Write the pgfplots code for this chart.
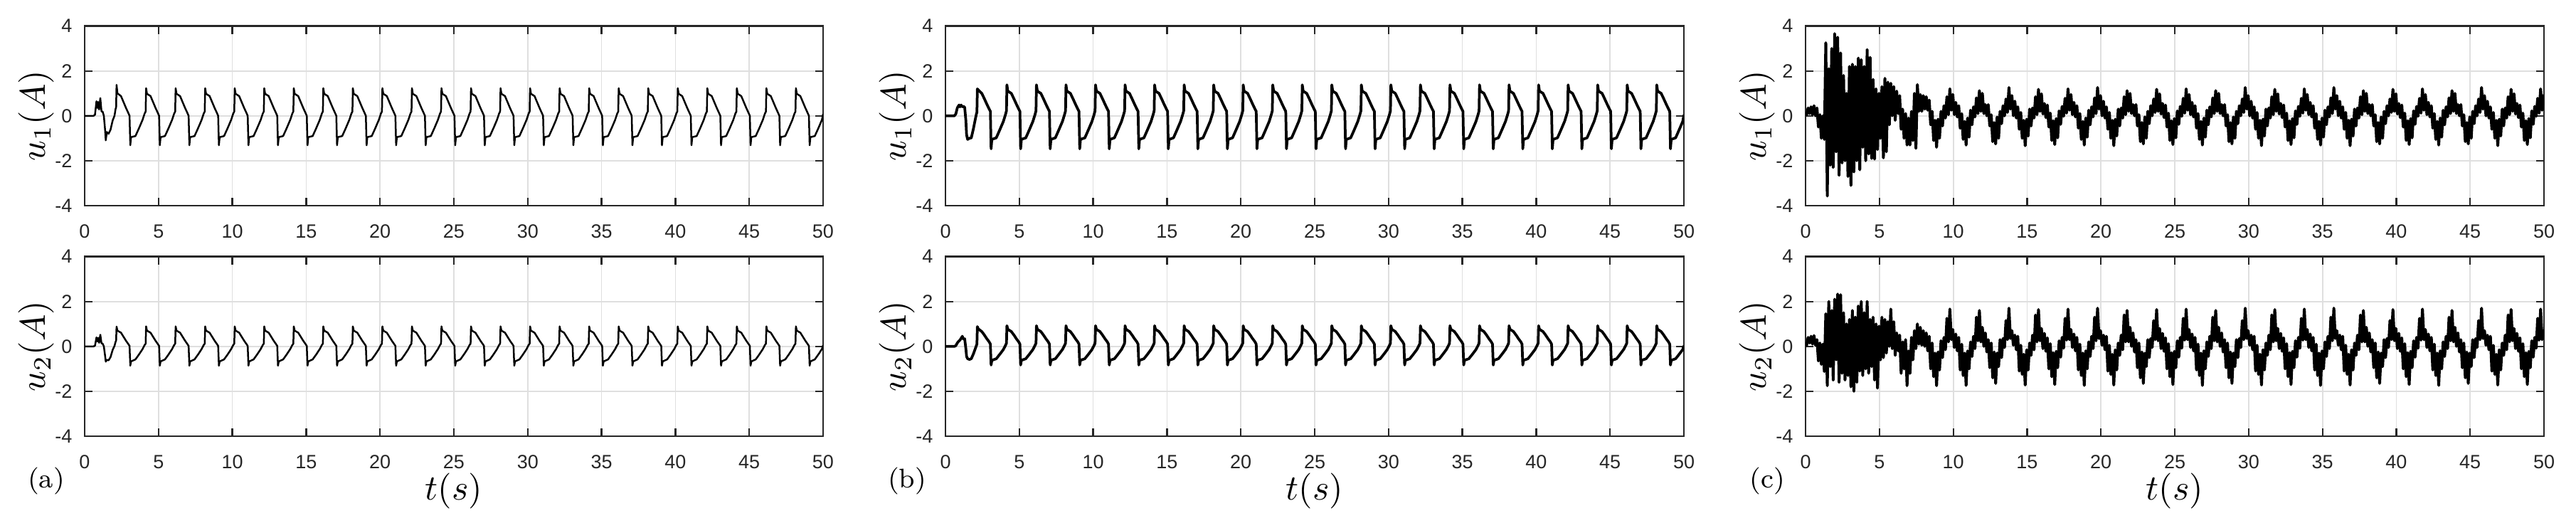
\documentclass[border=0pt]{standalone}
\usepackage{fontspec}
\usepackage{pgfplots}
\usepackage{pgfplotstable}
\pgfplotsset{compat=1.18}
\newfontfamily\ticksf{Liberation Sans}
\definecolor{axgray}{RGB}{38,38,38}
\definecolor{gridgray}{RGB}{223,223,223}

% t, u1 and u2 of panels (a) and (b)
\pgfplotstableread{
t a1 a2 b1 b2
0.00 0 0 0 0
0.60 0 0 0 0
0.70 0.05 0.03 0.08 0.03
0.80 0.65 0.40 0.35 0.15
0.86 0.35 0.22 0.42 0.20
0.92 0.62 0.38 0.48 0.24
0.98 0.28 0.16 0.40 0.28
1.06 0.79 0.52 0.48 0.36
1.14 0.20 0.14 0.40 0.45
1.22 0.18 0.12 0.42 0.32
1.30 0.00 0.00 0.38 0.34
1.38 -0.60 -0.40 -0.20 -0.10
1.43 -1.09 -0.68 -0.85 -0.45
1.50 -0.72 -0.60 -1.05 -0.55
1.62 -0.80 -0.62 -1.00 -0.58
1.75 -0.62 -0.48 -0.98 -0.55
1.90 -0.20 -0.15 -0.55 -0.32
2.02 0.00 0.02 -0.15 -0.10
2.10 0.33 0.22 0.10 0.05
2.13 0.35 0.24 0.15 0.10
2.16 1.38 0.88 1.20 0.88
2.22 1.00 0.70 1.15 0.78
2.46 0.88 0.61 1.00 0.66
2.64 0.60 0.42 0.75 0.50
2.80 0.35 0.25 0.52 0.34
2.96 0.12 0.10 0.30 0.20
3.04 0.00 0.02 0.20 0.10
3.09 -1.31 -0.86 -1.47 -0.83
3.14 -0.95 -0.67 -1.05 -0.62
3.44 -0.90 -0.58 -0.98 -0.55
3.68 -0.55 -0.36 -0.62 -0.35
3.92 -0.18 -0.12 -0.25 -0.14
4.06 0.10 0.06 0.05 0.04
4.13 0.19 0.12 0.22 0.14
4.16 1.23 0.89 1.38 0.92
4.22 0.98 0.70 1.10 0.76
4.46 0.88 0.61 1.00 0.66
4.64 0.60 0.42 0.75 0.50
4.80 0.35 0.25 0.52 0.34
4.96 0.12 0.10 0.30 0.20
5.04 0.00 0.02 0.20 0.10
5.09 -1.31 -0.86 -1.47 -0.83
5.14 -0.95 -0.67 -1.05 -0.62
5.44 -0.90 -0.58 -0.98 -0.55
5.68 -0.55 -0.36 -0.62 -0.35
5.92 -0.18 -0.12 -0.25 -0.14
6.06 0.10 0.06 0.05 0.04
6.13 0.19 0.12 0.22 0.14
6.16 1.23 0.89 1.38 0.92
6.22 0.98 0.70 1.10 0.76
6.46 0.88 0.61 1.00 0.66
6.64 0.60 0.42 0.75 0.50
6.80 0.35 0.25 0.52 0.34
6.96 0.12 0.10 0.30 0.20
7.04 0.00 0.02 0.20 0.10
7.09 -1.31 -0.86 -1.47 -0.83
7.14 -0.95 -0.67 -1.05 -0.62
7.44 -0.90 -0.58 -0.98 -0.55
7.68 -0.55 -0.36 -0.62 -0.35
7.92 -0.18 -0.12 -0.25 -0.14
8.06 0.10 0.06 0.05 0.04
8.13 0.19 0.12 0.22 0.14
8.16 1.23 0.89 1.38 0.92
8.22 0.98 0.70 1.10 0.76
8.46 0.88 0.61 1.00 0.66
8.64 0.60 0.42 0.75 0.50
8.80 0.35 0.25 0.52 0.34
8.96 0.12 0.10 0.30 0.20
9.04 0.00 0.02 0.20 0.10
9.09 -1.31 -0.86 -1.47 -0.83
9.14 -0.95 -0.67 -1.05 -0.62
9.44 -0.90 -0.58 -0.98 -0.55
9.68 -0.55 -0.36 -0.62 -0.35
9.92 -0.18 -0.12 -0.25 -0.14
10.06 0.10 0.06 0.05 0.04
10.13 0.19 0.12 0.22 0.14
10.16 1.23 0.89 1.38 0.92
10.22 0.98 0.70 1.10 0.76
10.46 0.88 0.61 1.00 0.66
10.64 0.60 0.42 0.75 0.50
10.80 0.35 0.25 0.52 0.34
10.96 0.12 0.10 0.30 0.20
11.04 0.00 0.02 0.20 0.10
11.09 -1.31 -0.86 -1.47 -0.83
11.14 -0.95 -0.67 -1.05 -0.62
11.44 -0.90 -0.58 -0.98 -0.55
11.68 -0.55 -0.36 -0.62 -0.35
11.92 -0.18 -0.12 -0.25 -0.14
12.06 0.10 0.06 0.05 0.04
12.13 0.19 0.12 0.22 0.14
12.16 1.23 0.89 1.38 0.92
12.22 0.98 0.70 1.10 0.76
12.46 0.88 0.61 1.00 0.66
12.64 0.60 0.42 0.75 0.50
12.80 0.35 0.25 0.52 0.34
12.96 0.12 0.10 0.30 0.20
13.04 0.00 0.02 0.20 0.10
13.09 -1.31 -0.86 -1.47 -0.83
13.14 -0.95 -0.67 -1.05 -0.62
13.44 -0.90 -0.58 -0.98 -0.55
13.68 -0.55 -0.36 -0.62 -0.35
13.92 -0.18 -0.12 -0.25 -0.14
14.06 0.10 0.06 0.05 0.04
14.13 0.19 0.12 0.22 0.14
14.16 1.23 0.89 1.38 0.92
14.22 0.98 0.70 1.10 0.76
14.46 0.88 0.61 1.00 0.66
14.64 0.60 0.42 0.75 0.50
14.80 0.35 0.25 0.52 0.34
14.96 0.12 0.10 0.30 0.20
15.04 0.00 0.02 0.20 0.10
15.09 -1.31 -0.86 -1.47 -0.83
15.14 -0.95 -0.67 -1.05 -0.62
15.44 -0.90 -0.58 -0.98 -0.55
15.68 -0.55 -0.36 -0.62 -0.35
15.92 -0.18 -0.12 -0.25 -0.14
16.06 0.10 0.06 0.05 0.04
16.13 0.19 0.12 0.22 0.14
16.16 1.23 0.89 1.38 0.92
16.22 0.98 0.70 1.10 0.76
16.46 0.88 0.61 1.00 0.66
16.64 0.60 0.42 0.75 0.50
16.80 0.35 0.25 0.52 0.34
16.96 0.12 0.10 0.30 0.20
17.04 0.00 0.02 0.20 0.10
17.09 -1.31 -0.86 -1.47 -0.83
17.14 -0.95 -0.67 -1.05 -0.62
17.44 -0.90 -0.58 -0.98 -0.55
17.68 -0.55 -0.36 -0.62 -0.35
17.92 -0.18 -0.12 -0.25 -0.14
18.06 0.10 0.06 0.05 0.04
18.13 0.19 0.12 0.22 0.14
18.16 1.23 0.89 1.38 0.92
18.22 0.98 0.70 1.10 0.76
18.46 0.88 0.61 1.00 0.66
18.64 0.60 0.42 0.75 0.50
18.80 0.35 0.25 0.52 0.34
18.96 0.12 0.10 0.30 0.20
19.04 0.00 0.02 0.20 0.10
19.09 -1.31 -0.86 -1.47 -0.83
19.14 -0.95 -0.67 -1.05 -0.62
19.44 -0.90 -0.58 -0.98 -0.55
19.68 -0.55 -0.36 -0.62 -0.35
19.92 -0.18 -0.12 -0.25 -0.14
20.06 0.10 0.06 0.05 0.04
20.13 0.19 0.12 0.22 0.14
20.16 1.23 0.89 1.38 0.92
20.22 0.98 0.70 1.10 0.76
20.46 0.88 0.61 1.00 0.66
20.64 0.60 0.42 0.75 0.50
20.80 0.35 0.25 0.52 0.34
20.96 0.12 0.10 0.30 0.20
21.04 0.00 0.02 0.20 0.10
21.09 -1.31 -0.86 -1.47 -0.83
21.14 -0.95 -0.67 -1.05 -0.62
21.44 -0.90 -0.58 -0.98 -0.55
21.68 -0.55 -0.36 -0.62 -0.35
21.92 -0.18 -0.12 -0.25 -0.14
22.06 0.10 0.06 0.05 0.04
22.13 0.19 0.12 0.22 0.14
22.16 1.23 0.89 1.38 0.92
22.22 0.98 0.70 1.10 0.76
22.46 0.88 0.61 1.00 0.66
22.64 0.60 0.42 0.75 0.50
22.80 0.35 0.25 0.52 0.34
22.96 0.12 0.10 0.30 0.20
23.04 0.00 0.02 0.20 0.10
23.09 -1.31 -0.86 -1.47 -0.83
23.14 -0.95 -0.67 -1.05 -0.62
23.44 -0.90 -0.58 -0.98 -0.55
23.68 -0.55 -0.36 -0.62 -0.35
23.92 -0.18 -0.12 -0.25 -0.14
24.06 0.10 0.06 0.05 0.04
24.13 0.19 0.12 0.22 0.14
24.16 1.23 0.89 1.38 0.92
24.22 0.98 0.70 1.10 0.76
24.46 0.88 0.61 1.00 0.66
24.64 0.60 0.42 0.75 0.50
24.80 0.35 0.25 0.52 0.34
24.96 0.12 0.10 0.30 0.20
25.04 0.00 0.02 0.20 0.10
25.09 -1.31 -0.86 -1.47 -0.83
25.14 -0.95 -0.67 -1.05 -0.62
25.44 -0.90 -0.58 -0.98 -0.55
25.68 -0.55 -0.36 -0.62 -0.35
25.92 -0.18 -0.12 -0.25 -0.14
26.06 0.10 0.06 0.05 0.04
26.13 0.19 0.12 0.22 0.14
26.16 1.23 0.89 1.38 0.92
26.22 0.98 0.70 1.10 0.76
26.46 0.88 0.61 1.00 0.66
26.64 0.60 0.42 0.75 0.50
26.80 0.35 0.25 0.52 0.34
26.96 0.12 0.10 0.30 0.20
27.04 0.00 0.02 0.20 0.10
27.09 -1.31 -0.86 -1.47 -0.83
27.14 -0.95 -0.67 -1.05 -0.62
27.44 -0.90 -0.58 -0.98 -0.55
27.68 -0.55 -0.36 -0.62 -0.35
27.92 -0.18 -0.12 -0.25 -0.14
28.06 0.10 0.06 0.05 0.04
28.13 0.19 0.12 0.22 0.14
28.16 1.23 0.89 1.38 0.92
28.22 0.98 0.70 1.10 0.76
28.46 0.88 0.61 1.00 0.66
28.64 0.60 0.42 0.75 0.50
28.80 0.35 0.25 0.52 0.34
28.96 0.12 0.10 0.30 0.20
29.04 0.00 0.02 0.20 0.10
29.09 -1.31 -0.86 -1.47 -0.83
29.14 -0.95 -0.67 -1.05 -0.62
29.44 -0.90 -0.58 -0.98 -0.55
29.68 -0.55 -0.36 -0.62 -0.35
29.92 -0.18 -0.12 -0.25 -0.14
30.06 0.10 0.06 0.05 0.04
30.13 0.19 0.12 0.22 0.14
30.16 1.23 0.89 1.38 0.92
30.22 0.98 0.70 1.10 0.76
30.46 0.88 0.61 1.00 0.66
30.64 0.60 0.42 0.75 0.50
30.80 0.35 0.25 0.52 0.34
30.96 0.12 0.10 0.30 0.20
31.04 0.00 0.02 0.20 0.10
31.09 -1.31 -0.86 -1.47 -0.83
31.14 -0.95 -0.67 -1.05 -0.62
31.44 -0.90 -0.58 -0.98 -0.55
31.68 -0.55 -0.36 -0.62 -0.35
31.92 -0.18 -0.12 -0.25 -0.14
32.06 0.10 0.06 0.05 0.04
32.13 0.19 0.12 0.22 0.14
32.16 1.23 0.89 1.38 0.92
32.22 0.98 0.70 1.10 0.76
32.46 0.88 0.61 1.00 0.66
32.64 0.60 0.42 0.75 0.50
32.80 0.35 0.25 0.52 0.34
32.96 0.12 0.10 0.30 0.20
33.04 0.00 0.02 0.20 0.10
33.09 -1.31 -0.86 -1.47 -0.83
33.14 -0.95 -0.67 -1.05 -0.62
33.44 -0.90 -0.58 -0.98 -0.55
33.68 -0.55 -0.36 -0.62 -0.35
33.92 -0.18 -0.12 -0.25 -0.14
34.06 0.10 0.06 0.05 0.04
34.13 0.19 0.12 0.22 0.14
34.16 1.23 0.89 1.38 0.92
34.22 0.98 0.70 1.10 0.76
34.46 0.88 0.61 1.00 0.66
34.64 0.60 0.42 0.75 0.50
34.80 0.35 0.25 0.52 0.34
34.96 0.12 0.10 0.30 0.20
35.04 0.00 0.02 0.20 0.10
35.09 -1.31 -0.86 -1.47 -0.83
35.14 -0.95 -0.67 -1.05 -0.62
35.44 -0.90 -0.58 -0.98 -0.55
35.68 -0.55 -0.36 -0.62 -0.35
35.92 -0.18 -0.12 -0.25 -0.14
36.06 0.10 0.06 0.05 0.04
36.13 0.19 0.12 0.22 0.14
36.16 1.23 0.89 1.38 0.92
36.22 0.98 0.70 1.10 0.76
36.46 0.88 0.61 1.00 0.66
36.64 0.60 0.42 0.75 0.50
36.80 0.35 0.25 0.52 0.34
36.96 0.12 0.10 0.30 0.20
37.04 0.00 0.02 0.20 0.10
37.09 -1.31 -0.86 -1.47 -0.83
37.14 -0.95 -0.67 -1.05 -0.62
37.44 -0.90 -0.58 -0.98 -0.55
37.68 -0.55 -0.36 -0.62 -0.35
37.92 -0.18 -0.12 -0.25 -0.14
38.06 0.10 0.06 0.05 0.04
38.13 0.19 0.12 0.22 0.14
38.16 1.23 0.89 1.38 0.92
38.22 0.98 0.70 1.10 0.76
38.46 0.88 0.61 1.00 0.66
38.64 0.60 0.42 0.75 0.50
38.80 0.35 0.25 0.52 0.34
38.96 0.12 0.10 0.30 0.20
39.04 0.00 0.02 0.20 0.10
39.09 -1.31 -0.86 -1.47 -0.83
39.14 -0.95 -0.67 -1.05 -0.62
39.44 -0.90 -0.58 -0.98 -0.55
39.68 -0.55 -0.36 -0.62 -0.35
39.92 -0.18 -0.12 -0.25 -0.14
40.06 0.10 0.06 0.05 0.04
40.13 0.19 0.12 0.22 0.14
40.16 1.23 0.89 1.38 0.92
40.22 0.98 0.70 1.10 0.76
40.46 0.88 0.61 1.00 0.66
40.64 0.60 0.42 0.75 0.50
40.80 0.35 0.25 0.52 0.34
40.96 0.12 0.10 0.30 0.20
41.04 0.00 0.02 0.20 0.10
41.09 -1.31 -0.86 -1.47 -0.83
41.14 -0.95 -0.67 -1.05 -0.62
41.44 -0.90 -0.58 -0.98 -0.55
41.68 -0.55 -0.36 -0.62 -0.35
41.92 -0.18 -0.12 -0.25 -0.14
42.06 0.10 0.06 0.05 0.04
42.13 0.19 0.12 0.22 0.14
42.16 1.23 0.89 1.38 0.92
42.22 0.98 0.70 1.10 0.76
42.46 0.88 0.61 1.00 0.66
42.64 0.60 0.42 0.75 0.50
42.80 0.35 0.25 0.52 0.34
42.96 0.12 0.10 0.30 0.20
43.04 0.00 0.02 0.20 0.10
43.09 -1.31 -0.86 -1.47 -0.83
43.14 -0.95 -0.67 -1.05 -0.62
43.44 -0.90 -0.58 -0.98 -0.55
43.68 -0.55 -0.36 -0.62 -0.35
43.92 -0.18 -0.12 -0.25 -0.14
44.06 0.10 0.06 0.05 0.04
44.13 0.19 0.12 0.22 0.14
44.16 1.23 0.89 1.38 0.92
44.22 0.98 0.70 1.10 0.76
44.46 0.88 0.61 1.00 0.66
44.64 0.60 0.42 0.75 0.50
44.80 0.35 0.25 0.52 0.34
44.96 0.12 0.10 0.30 0.20
45.04 0.00 0.02 0.20 0.10
45.09 -1.31 -0.86 -1.47 -0.83
45.14 -0.95 -0.67 -1.05 -0.62
45.44 -0.90 -0.58 -0.98 -0.55
45.68 -0.55 -0.36 -0.62 -0.35
45.92 -0.18 -0.12 -0.25 -0.14
46.06 0.10 0.06 0.05 0.04
46.13 0.19 0.12 0.22 0.14
46.16 1.23 0.89 1.38 0.92
46.22 0.98 0.70 1.10 0.76
46.46 0.88 0.61 1.00 0.66
46.64 0.60 0.42 0.75 0.50
46.80 0.35 0.25 0.52 0.34
46.96 0.12 0.10 0.30 0.20
47.04 0.00 0.02 0.20 0.10
47.09 -1.31 -0.86 -1.47 -0.83
47.14 -0.95 -0.67 -1.05 -0.62
47.44 -0.90 -0.58 -0.98 -0.55
47.68 -0.55 -0.36 -0.62 -0.35
47.92 -0.18 -0.12 -0.25 -0.14
48.06 0.10 0.06 0.05 0.04
48.13 0.19 0.12 0.22 0.14
48.16 1.23 0.89 1.38 0.92
48.22 0.98 0.70 1.10 0.76
48.46 0.88 0.61 1.00 0.66
48.64 0.60 0.42 0.75 0.50
48.80 0.35 0.25 0.52 0.34
48.96 0.12 0.10 0.30 0.20
49.04 0.00 0.02 0.20 0.10
49.09 -1.31 -0.86 -1.47 -0.83
49.14 -0.95 -0.67 -1.05 -0.62
49.44 -0.90 -0.58 -0.98 -0.55
49.68 -0.55 -0.36 -0.62 -0.35
49.92 -0.18 -0.12 -0.25 -0.14
50.00 0.08 0.05 0.04 0.03
}\tabab

% t, u1 and u2 of panel (c), read as the upper and lower edges of the noisy band
\pgfplotstableread{
t c1 c2
0.00 0.00 0.00
0.07 0.05 0.05
0.17 0.35 0.40
0.27 0.10 0.15
0.37 0.40 0.45
0.47 0.05 0.10
0.57 0.45 0.48
0.67 0.00 0.05
0.77 0.35 0.30
0.87 -0.50 -0.65
0.97 0.05 0.15
1.07 -1.00 -0.80
1.17 0.00 0.10
1.27 -1.05 -1.12
1.37 3.25 1.45
1.47 -3.57 -1.75
1.57 2.10 2.00
1.67 -2.20 -0.90
1.77 3.00 1.60
1.87 -2.30 -1.50
1.97 3.66 2.10
2.07 -1.60 -0.60
2.17 3.50 2.33
2.27 -2.65 -1.60
2.37 2.80 2.30
2.47 -2.10 -1.20
2.57 1.80 1.50
2.67 -2.00 -1.50
2.77 1.00 1.00
2.87 -2.70 -1.30
2.97 2.20 1.20
3.07 -3.10 -1.80
3.17 2.30 1.60
3.27 -2.50 -2.00
3.37 2.20 1.30
3.47 -2.00 -1.60
3.57 2.57 1.80
3.67 -2.40 -1.10
3.77 2.50 2.00
3.87 -1.40 -1.30
3.97 2.20 1.50
4.07 -2.00 -1.00
4.17 2.95 2.00
4.27 -1.70 -1.20
4.37 2.60 1.20
4.47 -1.90 -0.90
4.57 1.62 1.30
4.67 -1.93 -1.50
4.77 1.20 1.00
4.87 -1.50 -1.86
4.97 1.00 0.90
5.07 -1.00 -0.60
5.17 1.30 1.30
5.27 -1.87 -0.50
5.37 1.67 1.20
5.47 -1.60 -0.30
5.57 1.50 1.10
5.67 -0.40 0.00
5.77 1.45 1.66
5.87 0.00 -0.10
5.97 1.30 1.10
6.07 -0.20 -0.40
6.17 1.10 0.60
6.27 0.10 -0.20
6.37 0.90 0.50
6.47 -0.60 -1.20
6.57 0.30 0.20
6.67 -1.00 -1.00
6.77 0.10 0.30
6.87 -1.30 -1.75
6.97 -0.10 -0.20
7.07 -1.30 -1.20
7.17 0.20 0.40
7.27 -1.10 -0.60
7.37 1.00 0.70
7.47 -1.45 -0.10
7.57 1.39 1.00
7.67 0.20 0.10
7.77 0.95 0.85
7.87 0.20 0.05
7.97 0.90 0.70
8.07 0.30 0.00
8.17 0.85 0.60
8.27 0.25 -0.20
8.37 0.70 0.45
8.47 -0.40 -1.00
8.57 0.20 0.15
8.67 -1.10 -1.35
8.77 -0.20 -0.30
8.87 -1.40 -1.75
8.97 -0.15 -0.25
9.07 -1.00 -1.05
9.17 0.20 0.25
9.27 -0.45 -0.50
9.37 0.45 0.40
9.47 -0.10 -0.15
9.57 0.85 1.25
9.67 0.05 0.20
9.77 1.20 1.66
9.87 0.25 0.30
9.97 0.95 0.75
10.07 0.05 -0.05
10.17 0.60 0.55
10.27 -0.05 -0.20
10.37 0.45 0.40
10.47 -0.55 -1.05
10.57 0.10 0.10
10.67 -1.05 -1.30
10.77 -0.25 -0.30
10.87 -1.30 -1.74
10.97 -0.10 -0.20
11.07 -0.95 -1.00
11.17 0.25 0.20
11.27 -0.40 -0.45
11.37 0.40 0.45
11.47 -0.05 -0.10
11.57 0.80 1.30
11.67 0.10 0.25
11.77 1.12 1.60
11.87 0.20 0.20
11.97 1.00 0.85
12.07 0.10 0.00
12.17 0.50 0.60
12.27 0.00 -0.25
12.37 0.50 0.30
12.47 -0.45 -0.95
12.57 0.05 0.15
12.67 -1.15 -1.40
12.77 -0.30 -0.25
12.87 -1.25 -1.65
12.97 -0.05 -0.30
13.07 -1.00 -0.90
13.17 0.20 0.30
13.27 -0.35 -0.50
13.37 0.45 0.35
13.47 0.00 -0.05
13.57 0.75 1.15
13.67 0.15 0.30
13.77 1.26 1.70
13.87 0.30 0.35
13.97 0.90 0.70
14.07 0.00 0.05
14.17 0.65 0.50
14.27 -0.10 -0.15
14.37 0.40 0.45
14.47 -0.60 -1.10
14.57 0.15 0.05
14.67 -1.00 -1.25
14.77 -0.20 -0.35
14.87 -1.33 -1.72
14.97 -0.15 -0.15
15.07 -0.90 -1.05
15.17 0.30 0.15
15.27 -0.45 -0.40
15.37 0.35 0.50
15.47 -0.10 -0.15
15.57 0.85 1.40
15.67 0.05 0.20
15.77 1.18 1.64
15.87 0.20 0.25
15.97 0.98 0.80
16.07 0.08 -0.10
16.17 0.55 0.58
16.27 -0.08 -0.22
16.37 0.48 0.38
16.47 -0.50 -1.00
16.57 0.12 0.12
16.67 -1.10 -1.35
16.77 -0.22 -0.28
16.87 -1.28 -1.70
16.97 -0.12 -0.22
17.07 -0.98 -0.95
17.17 0.22 0.25
17.27 -0.38 -0.48
17.37 0.42 0.40
17.47 -0.02 -0.08
17.57 0.78 1.25
17.67 0.12 0.28
17.77 1.20 1.66
17.87 0.25 0.30
17.97 0.95 0.75
18.07 0.05 -0.05
18.17 0.60 0.55
18.27 -0.05 -0.20
18.37 0.45 0.40
18.47 -0.55 -1.05
18.57 0.10 0.10
18.67 -1.05 -1.30
18.77 -0.25 -0.30
18.87 -1.30 -1.74
18.97 -0.10 -0.20
19.07 -0.95 -1.00
19.17 0.25 0.20
19.27 -0.40 -0.45
19.37 0.40 0.45
19.47 -0.05 -0.10
19.57 0.80 1.30
19.67 0.10 0.25
19.77 1.26 1.70
19.87 0.30 0.35
19.97 0.90 0.70
20.07 0.00 0.05
20.17 0.65 0.50
20.27 -0.10 -0.15
20.37 0.40 0.45
20.47 -0.60 -1.10
20.57 0.15 0.05
20.67 -1.00 -1.25
20.77 -0.20 -0.35
20.87 -1.33 -1.72
20.97 -0.15 -0.15
21.07 -0.90 -1.05
21.17 0.30 0.15
21.27 -0.45 -0.40
21.37 0.35 0.50
21.47 -0.10 -0.15
21.57 0.85 1.40
21.67 0.05 0.20
21.77 1.12 1.60
21.87 0.20 0.20
21.97 1.00 0.85
22.07 0.10 0.00
22.17 0.50 0.60
22.27 0.00 -0.25
22.37 0.50 0.30
22.47 -0.45 -0.95
22.57 0.05 0.15
22.67 -1.15 -1.40
22.77 -0.30 -0.25
22.87 -1.25 -1.65
22.97 -0.05 -0.30
23.07 -1.00 -0.90
23.17 0.20 0.30
23.27 -0.35 -0.50
23.37 0.45 0.35
23.47 0.00 -0.05
23.57 0.75 1.15
23.67 0.15 0.30
23.77 1.18 1.64
23.87 0.20 0.25
23.97 0.98 0.80
24.07 0.08 -0.10
24.17 0.55 0.58
24.27 -0.08 -0.22
24.37 0.48 0.38
24.47 -0.50 -1.00
24.57 0.12 0.12
24.67 -1.10 -1.35
24.77 -0.22 -0.28
24.87 -1.28 -1.70
24.97 -0.12 -0.22
25.07 -0.98 -0.95
25.17 0.22 0.25
25.27 -0.38 -0.48
25.37 0.42 0.40
25.47 -0.02 -0.08
25.57 0.78 1.25
25.67 0.12 0.28
25.77 1.20 1.66
25.87 0.25 0.30
25.97 0.95 0.75
26.07 0.05 -0.05
26.17 0.60 0.55
26.27 -0.05 -0.20
26.37 0.45 0.40
26.47 -0.55 -1.05
26.57 0.10 0.10
26.67 -1.05 -1.30
26.77 -0.25 -0.30
26.87 -1.30 -1.74
26.97 -0.10 -0.20
27.07 -0.95 -1.00
27.17 0.25 0.20
27.27 -0.40 -0.45
27.37 0.40 0.45
27.47 -0.05 -0.10
27.57 0.80 1.30
27.67 0.10 0.25
27.77 1.12 1.60
27.87 0.20 0.20
27.97 1.00 0.85
28.07 0.10 0.00
28.17 0.50 0.60
28.27 0.00 -0.25
28.37 0.50 0.30
28.47 -0.45 -0.95
28.57 0.05 0.15
28.67 -1.15 -1.40
28.77 -0.30 -0.25
28.87 -1.25 -1.65
28.97 -0.05 -0.30
29.07 -1.00 -0.90
29.17 0.20 0.30
29.27 -0.35 -0.50
29.37 0.45 0.35
29.47 0.00 -0.05
29.57 0.75 1.15
29.67 0.15 0.30
29.77 1.26 1.70
29.87 0.30 0.35
29.97 0.90 0.70
30.07 0.00 0.05
30.17 0.65 0.50
30.27 -0.10 -0.15
30.37 0.40 0.45
30.47 -0.60 -1.10
30.57 0.15 0.05
30.67 -1.00 -1.25
30.77 -0.20 -0.35
30.87 -1.33 -1.72
30.97 -0.15 -0.15
31.07 -0.90 -1.05
31.17 0.30 0.15
31.27 -0.45 -0.40
31.37 0.35 0.50
31.47 -0.10 -0.15
31.57 0.85 1.40
31.67 0.05 0.20
31.77 1.18 1.64
31.87 0.20 0.25
31.97 0.98 0.80
32.07 0.08 -0.10
32.17 0.55 0.58
32.27 -0.08 -0.22
32.37 0.48 0.38
32.47 -0.50 -1.00
32.57 0.12 0.12
32.67 -1.10 -1.35
32.77 -0.22 -0.28
32.87 -1.28 -1.70
32.97 -0.12 -0.22
33.07 -0.98 -0.95
33.17 0.22 0.25
33.27 -0.38 -0.48
33.37 0.42 0.40
33.47 -0.02 -0.08
33.57 0.78 1.25
33.67 0.12 0.28
33.77 1.20 1.66
33.87 0.25 0.30
33.97 0.95 0.75
34.07 0.05 -0.05
34.17 0.60 0.55
34.27 -0.05 -0.20
34.37 0.45 0.40
34.47 -0.55 -1.05
34.57 0.10 0.10
34.67 -1.05 -1.30
34.77 -0.25 -0.30
34.87 -1.30 -1.74
34.97 -0.10 -0.20
35.07 -0.95 -1.00
35.17 0.25 0.20
35.27 -0.40 -0.45
35.37 0.40 0.45
35.47 -0.05 -0.10
35.57 0.80 1.30
35.67 0.10 0.25
35.77 1.26 1.70
35.87 0.30 0.35
35.97 0.90 0.70
36.07 0.00 0.05
36.17 0.65 0.50
36.27 -0.10 -0.15
36.37 0.40 0.45
36.47 -0.60 -1.10
36.57 0.15 0.05
36.67 -1.00 -1.25
36.77 -0.20 -0.35
36.87 -1.33 -1.72
36.97 -0.15 -0.15
37.07 -0.90 -1.05
37.17 0.30 0.15
37.27 -0.45 -0.40
37.37 0.35 0.50
37.47 -0.10 -0.15
37.57 0.85 1.40
37.67 0.05 0.20
37.77 1.12 1.60
37.87 0.20 0.20
37.97 1.00 0.85
38.07 0.10 0.00
38.17 0.50 0.60
38.27 0.00 -0.25
38.37 0.50 0.30
38.47 -0.45 -0.95
38.57 0.05 0.15
38.67 -1.15 -1.40
38.77 -0.30 -0.25
38.87 -1.25 -1.65
38.97 -0.05 -0.30
39.07 -1.00 -0.90
39.17 0.20 0.30
39.27 -0.35 -0.50
39.37 0.45 0.35
39.47 0.00 -0.05
39.57 0.75 1.15
39.67 0.15 0.30
39.77 1.18 1.64
39.87 0.20 0.25
39.97 0.98 0.80
40.07 0.08 -0.10
40.17 0.55 0.58
40.27 -0.08 -0.22
40.37 0.48 0.38
40.47 -0.50 -1.00
40.57 0.12 0.12
40.67 -1.10 -1.35
40.77 -0.22 -0.28
40.87 -1.28 -1.70
40.97 -0.12 -0.22
41.07 -0.98 -0.95
41.17 0.22 0.25
41.27 -0.38 -0.48
41.37 0.42 0.40
41.47 -0.02 -0.08
41.57 0.78 1.25
41.67 0.12 0.28
41.77 1.20 1.66
41.87 0.25 0.30
41.97 0.95 0.75
42.07 0.05 -0.05
42.17 0.60 0.55
42.27 -0.05 -0.20
42.37 0.45 0.40
42.47 -0.55 -1.05
42.57 0.10 0.10
42.67 -1.05 -1.30
42.77 -0.25 -0.30
42.87 -1.30 -1.74
42.97 -0.10 -0.20
43.07 -0.95 -1.00
43.17 0.25 0.20
43.27 -0.40 -0.45
43.37 0.40 0.45
43.47 -0.05 -0.10
43.57 0.80 1.30
43.67 0.10 0.25
43.77 1.12 1.60
43.87 0.20 0.20
43.97 1.00 0.85
44.07 0.10 0.00
44.17 0.50 0.60
44.27 0.00 -0.25
44.37 0.50 0.30
44.47 -0.45 -0.95
44.57 0.05 0.15
44.67 -1.15 -1.40
44.77 -0.30 -0.25
44.87 -1.25 -1.65
44.97 -0.05 -0.30
45.07 -1.00 -0.90
45.17 0.20 0.30
45.27 -0.35 -0.50
45.37 0.45 0.35
45.47 0.00 -0.05
45.57 0.75 1.15
45.67 0.15 0.30
45.77 1.26 1.70
45.87 0.30 0.35
45.97 0.90 0.70
46.07 0.00 0.05
46.17 0.65 0.50
46.27 -0.10 -0.15
46.37 0.40 0.45
46.47 -0.60 -1.10
46.57 0.15 0.05
46.67 -1.00 -1.25
46.77 -0.20 -0.35
46.87 -1.33 -1.72
46.97 -0.15 -0.15
47.07 -0.90 -1.05
47.17 0.30 0.15
47.27 -0.45 -0.40
47.37 0.35 0.50
47.47 -0.10 -0.15
47.57 0.85 1.40
47.67 0.05 0.20
47.77 1.18 1.64
47.87 0.20 0.25
47.97 0.98 0.80
48.07 0.08 -0.10
48.17 0.55 0.58
48.27 -0.08 -0.22
48.37 0.48 0.38
48.47 -0.50 -1.00
48.57 0.12 0.12
48.67 -1.10 -1.35
48.77 -0.22 -0.28
48.87 -1.28 -1.70
48.97 -0.12 -0.22
49.07 -0.98 -0.95
49.17 0.22 0.25
49.27 -0.38 -0.48
49.37 0.42 0.40
49.47 -0.02 -0.08
49.57 0.78 1.25
49.67 0.12 0.28
49.77 1.20 1.66
49.87 0.25 0.30
49.97 0.95 0.75
}\tabc

\pgfplotsset{
  panel/.style={
    scale only axis, width=207.6pt, height=50.5pt,
    xmin=0, xmax=50, ymin=-4, ymax=4,
    xtick={0,5,...,50}, ytick={-4,-2,0,2,4},
    grid=major, major grid style={draw=gridgray, line width=0.35pt},
    axis line style={draw=axgray, line width=0.45pt},
    tick style={draw=axgray, line width=0.45pt},
    tick align=inside, major tick length=2.2pt,
    /pgf/number format/assume math mode=true,
    tick label style={font=\ticksf\fontsize{5.4pt}{6pt}\selectfont, text=axgray},
    xticklabel style={yshift=-1.8pt},
    label style={font=\fontsize{10.4pt}{12pt}\selectfont},
    ylabel style={at={(axis description cs:-0.0655,0.5)}, anchor=center},
    xlabel style={at={(axis description cs:0.5,-0.305)}, anchor=center},
    clip mode=individual,
  },
  sig/.style={black, line width=0.5pt, line join=round},
}

\begin{document}
\begin{tikzpicture}
\useasboundingbox (0,0) rectangle (724.2pt,148.2pt);

% (a)
\begin{axis}[panel, at={(23.8pt,90.4pt)}, anchor=south west, ylabel={$u_1(A)$}]
  \addplot[sig] table[x=t, y=a1] {\tabab};
\end{axis}
\begin{axis}[panel, at={(23.8pt,25.6pt)}, anchor=south west, ylabel={$u_2(A)$}, xlabel={$t(s)$}]
  \addplot[sig] table[x=t, y=a2] {\tabab};
  \node[font=\fontsize{7.6pt}{9pt}\selectfont] at (rel axis cs:-0.052,-0.25) {(a)};
\end{axis}

% (b)
\begin{axis}[panel, at={(265.8pt,90.4pt)}, anchor=south west, ylabel={$u_1(A)$}]
  \addplot[sig, line width=0.75pt] table[x=t, y=b1] {\tabab};
\end{axis}
\begin{axis}[panel, at={(265.8pt,25.6pt)}, anchor=south west, ylabel={$u_2(A)$}, xlabel={$t(s)$}]
  \addplot[sig, line width=0.75pt] table[x=t, y=b2] {\tabab};
  \node[font=\fontsize{7.6pt}{9pt}\selectfont] at (rel axis cs:-0.052,-0.25) {(b)};
\end{axis}

% (c)
\begin{axis}[panel, at={(507.6pt,90.4pt)}, anchor=south west, ylabel={$u_1(A)$}]
  \addplot[sig, line width=0.8pt] table[x=t, y=c1] {\tabc};
\end{axis}
\begin{axis}[panel, at={(507.6pt,25.6pt)}, anchor=south west, ylabel={$u_2(A)$}, xlabel={$t(s)$}]
  \addplot[sig, line width=0.8pt] table[x=t, y=c2] {\tabc};
  \node[font=\fontsize{7.6pt}{9pt}\selectfont] at (rel axis cs:-0.052,-0.25) {(c)};
\end{axis}
\end{tikzpicture}
\end{document}
